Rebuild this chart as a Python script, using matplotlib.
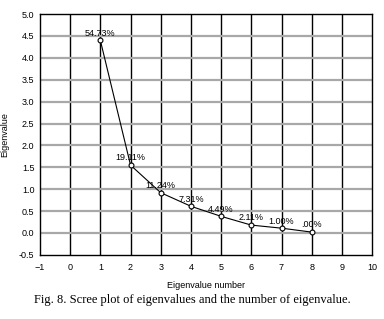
import matplotlib.pyplot as plt
import numpy as np

# eigenvalue number and eigenvalues
numbers = [1, 2, 3, 4, 5, 6, 7, 8]
eigenvalues = [4.40, 1.55, 0.92, 0.61, 0.38, 0.18, 0.11, 0.02]
percent_labels = ["54.73%", "19.11%", "11.24%", "7.31%", "4.49%", "2.11%", "1.00%", ".00%"]

plt.rcParams['font.family'] = ['Liberation Sans', 'DejaVu Sans']

fig = plt.figure(figsize=(3.84, 3.19), dpi=100)
ax = fig.add_axes([0.104, 0.201, 0.865, 0.755])

ax.set_xlim(-1, 10)
ax.set_ylim(-0.5, 5.0)
ax.set_xticks(np.arange(-1, 11, 1))
ax.set_yticks(np.arange(-0.5, 5.01, 0.5))
ax.set_yticklabels(["%.1f" % v for v in np.arange(-0.5, 5.01, 0.5)])

# grid: black verticals, grey horizontals
for xv in range(0, 10):
    ax.axvline(xv, color='black', lw=1.0, zorder=1)
for yv in np.arange(0.0, 5.0, 0.5):
    ax.axhline(yv, color='#a8a8a8', lw=1.6, zorder=1)

ax.plot(numbers, eigenvalues, color='black', lw=0.8, marker='o', ms=3.5,
        mfc='white', mec='black', mew=0.8, zorder=3)

for x, y, lab in zip(numbers, eigenvalues, percent_labels):
    ax.text(x, y + 0.06, lab, ha='center', va='bottom', fontsize=6.5, zorder=4)

for s in ax.spines.values():
    s.set_linewidth(1.0)
    s.set_color('black')

ax.tick_params(axis='x', length=0, labelsize=6.5, pad=6)
ax.tick_params(axis='y', length=0, labelsize=6.5, pad=4)
ax.set_xlabel("Eigenvalue number", fontsize=6.5, labelpad=6)
ax.set_ylabel("Eigenvalue", fontsize=6.5)
ax.yaxis.set_label_coords(-0.093, 0.5)

fig.text(0.5, 0.06, "Fig. 8. Scree plot of eigenvalues and the number of eigenvalue.",
         ha='center', va='center', fontsize=9, family='Liberation Serif')

fig.savefig("out.png", dpi=100)
